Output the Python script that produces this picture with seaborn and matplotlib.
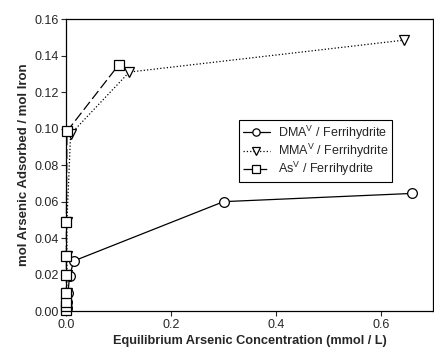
import pandas as pd
import seaborn as sns
import matplotlib.pyplot as plt
from matplotlib.ticker import FormatStrFormatter

# data (mmol/L vs mol As / mol Fe)
dma_x = [0.001, 0.002, 0.003, 0.006, 0.014, 0.30, 0.66]
dma_y = [0.002, 0.005, 0.010, 0.019, 0.0275, 0.060, 0.0645]

mma_x = [0.0, 0.001, 0.001, 0.001, 0.001, 0.008, 0.12, 0.645]
mma_y = [0.003, 0.010, 0.020, 0.030, 0.049, 0.097, 0.131, 0.1485]

as_x = [0.0, 0.0, 0.0, 0.0, 0.0, 0.0, 0.0, 0.001, 0.10]
as_y = [0.0005, 0.003, 0.005, 0.010, 0.020, 0.030, 0.049, 0.0985, 0.135]

labels = ['DMA$^{\\mathrm{V}}$ / Ferrihydrite',
          'MMA$^{\\mathrm{V}}$ / Ferrihydrite',
          'As$^{\\mathrm{V}}$ / Ferrihydrite']

sns.set_style('ticks')
plt.rcParams['font.family'] = ['Liberation Sans', 'DejaVu Sans']
plt.rcParams['mathtext.fontset'] = 'custom'
plt.rcParams['mathtext.rm'] = 'Liberation Sans'

fig = plt.figure(figsize=(4.34, 3.54), dpi=100)
ax = fig.add_axes([0.153, 0.121, 0.845, 0.825])

common = dict(sort=False, estimator=None, color='black', linewidth=0.9,
              markersize=7, markerfacecolor='white', markeredgecolor='black',
              markeredgewidth=0.9, clip_on=False, ax=ax)

sns.lineplot(x=dma_x, y=dma_y, marker='o', linestyle='-', label=labels[0], zorder=3, **common)
sns.lineplot(x=mma_x, y=mma_y, marker='v', linestyle=':', label=labels[1], zorder=2, **common)
sns.lineplot(x=as_x, y=as_y, marker='s', dashes=(8, 3), label=labels[2], zorder=4, **common)

ax.set_xlim(0, 0.7)
ax.set_ylim(0, 0.16)
ax.set_xticks([0.0, 0.2, 0.4, 0.6])
ax.set_yticks([0.0, 0.02, 0.04, 0.06, 0.08, 0.10, 0.12, 0.14, 0.16])
ax.xaxis.set_major_formatter(FormatStrFormatter('%.1f'))
ax.yaxis.set_major_formatter(FormatStrFormatter('%.2f'))
ax.tick_params(direction='out', length=3.5, width=0.8, labelsize=9, pad=2)

for s in ax.spines.values():
    s.set_linewidth(0.9)
    s.set_color('black')

ax.set_xlabel('Equilibrium Arsenic Concentration (mmol / L)', fontsize=9.2, fontweight='bold', labelpad=3)
ax.set_ylabel('mol Arsenic Adsorbed / mol Iron', fontsize=9.5, fontweight='bold', labelpad=3)

leg = ax.legend(loc='upper left', bbox_to_anchor=(0.47, 0.655), fontsize=9,
                frameon=True, fancybox=False, edgecolor='black', framealpha=1,
                handlelength=2.2, handletextpad=0.6, labelspacing=0.0,
                borderpad=0.3, borderaxespad=0, markerscale=0.75)
leg.get_frame().set_linewidth(0.8)

fig.savefig('out.png', dpi=100)
